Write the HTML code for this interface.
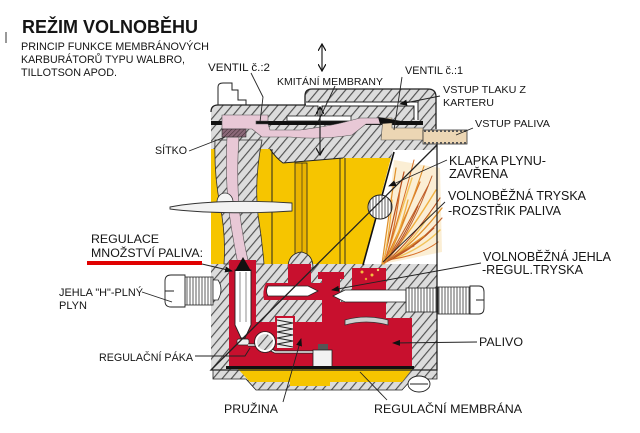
<!DOCTYPE html>
<html><head><meta charset="utf-8"><style>
html,body{margin:0;padding:0;background:#fff;}
svg{display:block;}
text{font-family:"Liberation Sans",Arial,sans-serif;fill:#151515;}
</style></head><body>
<svg width="640" height="433" viewBox="0 0 640 433" xmlns="http://www.w3.org/2000/svg">
<defs>
<pattern id="h" width="7" height="7" patternUnits="userSpaceOnUse" patternTransform="rotate(40)">
<rect width="7" height="7" fill="#dcdcdc"/>
<line x1="0.6" y1="0" x2="0.6" y2="7" stroke="#4a4a4a" stroke-width="1.1"/>
</pattern>
<pattern id="hs" width="3" height="3" patternUnits="userSpaceOnUse" patternTransform="rotate(45)">
<rect width="3" height="3" fill="#8a6878"/>
<line x1="0" y1="0" x2="0" y2="3" stroke="#3a2a30" stroke-width="1"/>
</pattern>
<pattern id="th" width="3" height="10" patternUnits="userSpaceOnUse">
<rect width="3" height="10" fill="#fff"/>
<line x1="1" y1="0" x2="1" y2="10" stroke="#333" stroke-width="0.8"/>
</pattern>
<marker id="a" markerWidth="8" markerHeight="6" refX="7" refY="3" orient="auto" markerUnits="userSpaceOnUse">
<path d="M0,0 L8,3 L0,6 Z" fill="#111"/>
</marker>
<marker id="v" markerWidth="8" markerHeight="8" refX="7" refY="4" orient="auto-start-reverse" markerUnits="userSpaceOnUse">
<path d="M0,0 L7,4 L0,8" fill="none" stroke="#111" stroke-width="1.2"/>
</marker>
</defs>

<!-- small mark -->
<line x1="6" y1="32" x2="6" y2="43" stroke="#333" stroke-width="1"/>

<!-- top left little screw -->
<path d="M218,105 L218,87 Q218,83 223,83 L232,83 L232,90 L238,90 L238,100 L246,100 L246,105 Z" fill="#fff" stroke="#222" stroke-width="1"/>

<!-- main body -->
<path d="M211,112 Q211,105 218,105 L305,105 L305,96 Q305,89 312,89 L428,89 Q436,89 436,97 L436,129 L437,129 L437,370 L211,370 Z" fill="url(#h)"/>

<!-- yellow bore -->
<path d="M211,149 L270,149 Q276,158 283,163 L343,158 L393,158 L363,264 L211,264 Z" fill="#f6c500"/>
<!-- white right of throttle -->
<path d="M393,150 L437,150 L437,264 L363,264 Z" fill="#fff"/>
<!-- spray -->
<path d="M383,264 L394,160 L440,168 L442,252 Z" fill="#f8e2b8" opacity="0.6"/>
<g fill="none" stroke-linecap="round">
<path d="M382,264 Q388,220 396,168" stroke="#e0902a" stroke-width="1.2"/>
<path d="M383,264 Q392,225 404,172" stroke="#b8501e" stroke-width="1.2"/>
<path d="M384,264 Q396,228 412,178" stroke="#f2c45a" stroke-width="1.4"/>
<path d="M384,263 Q400,230 420,182" stroke="#d87028" stroke-width="1.2"/>
<path d="M385,263 Q404,232 428,186" stroke="#c0602a" stroke-width="1.1"/>
<path d="M385,262 Q408,236 436,190" stroke="#f0b040" stroke-width="1.4"/>
<path d="M386,262 Q412,240 440,198" stroke="#b8501e" stroke-width="1.1"/>
<path d="M386,262 Q414,244 442,208" stroke="#e0902a" stroke-width="1.3"/>
<path d="M386,261 Q416,248 442,218" stroke="#c0602a" stroke-width="1.1"/>
<path d="M386,261 Q418,252 440,230" stroke="#f2c45a" stroke-width="1.4"/>
<path d="M386,260 Q420,256 438,242" stroke="#d87028" stroke-width="1.1"/>
<path d="M385,262 Q398,240 408,200" stroke="#f0b040" stroke-width="1.3"/>
<path d="M385,262 Q402,242 418,206" stroke="#b8501e" stroke-width="1"/>
<path d="M384,263 Q394,236 400,190" stroke="#d87028" stroke-width="1.2"/>
<path d="M386,262 Q410,246 430,214" stroke="#f2c45a" stroke-width="1.3"/>
<path d="M386,262 Q412,250 434,228" stroke="#b8501e" stroke-width="1"/>
<path d="M385,262 Q405,250 424,236" stroke="#e0902a" stroke-width="1.2"/>
<path d="M384,263 Q400,252 414,246" stroke="#c0602a" stroke-width="1"/>
<path d="M383,264 Q389,240 392,200" stroke="#f0b040" stroke-width="1.2"/>
<path d="M385,262 Q408,240 432,176" stroke="#c0602a" stroke-width="1"/>
<path d="M386,262 Q404,226 424,166" stroke="#e0902a" stroke-width="1.1"/>
<path d="M384,263 Q398,222 414,160" stroke="#d87028" stroke-width="1"/>
</g>

<!-- left channel wall -->
<path d="M215,140 L262,140 Q254,180 258,215 Q262,240 264,264 L224,264 Q226,235 220,205 Q214,175 215,140 Z" fill="url(#h)" stroke="#333" stroke-width="0.8"/>
<path d="M227,137 L239,137 Q236,180 240,215 Q244,245 249,264 L238,264 Q233,240 229,212 Q225,175 227,137 Z" fill="#e8c8d6" stroke="#555" stroke-width="0.6"/>
<line x1="272" y1="149" x2="272" y2="264" stroke="#222" stroke-width="1"/>

<!-- choke plate -->
<ellipse cx="225" cy="202" rx="8" ry="9" fill="#f4f4f4" stroke="#333" stroke-width="0.8"/>
<path d="M170,207 C200,201 250,200 292,203 L292,211 C250,214 200,213 170,209 Z" fill="#f2f2f2" stroke="#333" stroke-width="0.9"/>

<!-- venturi lines and nozzle tube -->
<rect x="295" y="163" width="12" height="92" fill="#eab400" stroke="#222" stroke-width="0.8"/>
<line x1="302" y1="163" x2="302" y2="255" stroke="#222" stroke-width="0.6"/>
<line x1="340" y1="158" x2="340" y2="264" stroke="#222" stroke-width="0.9"/>
<line x1="345" y1="158" x2="345" y2="264" stroke="#222" stroke-width="0.9"/>
<path d="M270,149 Q276,158 283,163 L343,158" fill="none" stroke="#222" stroke-width="1"/>
<path d="M288,268 Q288,254 301,252 Q313,254 313,268 Z" fill="url(#h)" stroke="#222" stroke-width="0.8"/>

<!-- throttle -->
<line x1="394" y1="152" x2="363" y2="265" stroke="#111" stroke-width="1.6"/>
<circle cx="380" cy="207" r="12" fill="url(#th)" stroke="#222" stroke-width="1"/>

<!-- top section details -->
<rect x="211" y="121" width="212" height="4" fill="#111"/>
<path d="M306,104 L416,104 L416,120 M320,104 L320,118" fill="none" stroke="#222" stroke-width="5"/>
<path d="M306,104 L416,104 L416,120 M320,104 L320,118" fill="none" stroke="#fff" stroke-width="3"/>
<rect x="287" y="116" width="64" height="5" fill="#fff" stroke="#222" stroke-width="0.8"/>
<path d="M222,115 L268,115 L268,121 L256,121 L256,124 L268,124 L270,130 L300,130 Q330,126 345,122 L360,118 L383,118 L383,124 L366,124 L352,135 Q320,140 290,137 L262,137 L252,129 L222,129 Z" fill="#e8c8d6" stroke="#555" stroke-width="0.6"/>
<rect x="222" y="129" width="24" height="8" fill="url(#hs)" stroke="#333" stroke-width="0.6"/>
<path d="M383,118 L392,118 L392,128 L423,128 L423,140 L381,140 Z" fill="#ecd6b4" stroke="#555" stroke-width="0.6"/>
<path d="M378,117 L407,122 L380,124 Z" fill="#111"/>
<rect x="423" y="130" width="44" height="14" fill="#ecd6b4" stroke="#333" stroke-width="0.8"/>
<path d="M424,131 L466,131 M424,143 L466,143" stroke="#555" stroke-width="2" stroke-dasharray="2,2"/>

<!-- bottom red chambers -->
<path d="M229,260 L256,260 L256,322 L275,322 L275,316 L295,316 L295,322 L322,322 L322,279 L318,279 L318,272 L344,272 L344,279 L340,279 L340,302 L352,302 L352,268 L386,268 L386,318 L412,318 L412,367 L229,367 Z" fill="#c8102e"/>
<path d="M288,264 L311,264 L311,283 L322,283 L322,300 L264,300 Q262,291 266,283 L288,283 Z" fill="#c8102e"/>
<circle cx="362" cy="272" r="1.5" fill="#f5c040"/><circle cx="372" cy="275" r="1.5" fill="#f5c040"/><circle cx="378" cy="270" r="1.2" fill="#f8d070"/><circle cx="366" cy="279" r="1.2" fill="#f0a030"/>
<path d="M345,320 Q366,314 388,320 L388,325 Q366,319 345,325 Z" fill="#cfcfcf" stroke="#333" stroke-width="0.8"/>
<!-- needle in needle chamber -->
<path d="M235,270 L251,270 L251,325 L245,338 L241,338 L235,325 Z" fill="#fff" stroke="#222" stroke-width="0.9"/>
<line x1="240" y1="272" x2="240" y2="322" stroke="#444" stroke-width="0.6"/>
<line x1="246" y1="272" x2="246" y2="322" stroke="#444" stroke-width="0.6"/>
<path d="M235,271 L243,257 L251,271 Z" fill="#111"/>
<rect x="237" y="339" width="12" height="6" rx="2" fill="#eee" stroke="#222" stroke-width="0.7"/>
<!-- main needle -->
<path d="M268,286 L308,286 L318,291 L308,296 L268,296 Q265,291 268,286 Z" fill="#fff" stroke="#222" stroke-width="0.8"/>
<!-- idle needle and screw -->
<path d="M333,296 L345,290 L406,290 L406,302 L345,302 Z" fill="#fff" stroke="#222" stroke-width="0.8"/>
<rect x="406" y="288" width="32" height="24" fill="url(#th)" stroke="#222" stroke-width="0.8"/>
<rect x="438" y="287" width="32" height="27" fill="url(#th)" stroke="#222" stroke-width="0.8"/>
<path d="M470,286 L479,286 Q484,286 484,292 L484,308 Q484,314 479,314 L470,314 Z" fill="#fff" stroke="#222" stroke-width="0.9"/>
<path d="M484,300 L476,300" stroke="#222" stroke-width="1"/>
<!-- left screw -->
<rect x="185" y="277" width="28" height="28" fill="url(#th)" stroke="#222" stroke-width="0.8"/>
<path d="M213,280 L218,280 Q224,289 218,300 L213,300 Z" fill="#fff" stroke="#222" stroke-width="0.8"/>
<path d="M185,275 L171,275 Q165,275 165,281 L165,301 Q165,307 171,307 L185,307 Z" fill="#fff" stroke="#222" stroke-width="0.9"/>
<path d="M165,291 L174,291" stroke="#222" stroke-width="1"/>
<!-- spring -->
<rect x="277" y="318" width="16" height="30" fill="#e8e8e8"/>
<path d="M277,320 L293,323 L277,326 L293,329 L277,332 L293,335 L277,338 L293,341 L277,344 L293,347" fill="none" stroke="#222" stroke-width="1"/>
<!-- lever -->
<path d="M248,345 L262,345 L275,352 L318,352" fill="none" stroke="#222" stroke-width="3"/>
<path d="M248,345 L262,345 L275,352 L318,352" fill="none" stroke="#eee" stroke-width="1.4"/>
<circle cx="265" cy="342" r="9" fill="url(#h)" stroke="#fff" stroke-width="2"/>
<circle cx="265" cy="342" r="10.5" fill="none" stroke="#222" stroke-width="0.8"/>
<rect x="318" y="344" width="10" height="7" fill="#555"/>
<rect x="313" y="350" width="19" height="17" fill="#f2f2f2" stroke="#222" stroke-width="0.8"/>

<!-- membrane and bottom cover -->
<path d="M213,370 L437,370 L437,379 L412,379 L402,390 L256,390 L246,379 L213,379 Z" fill="url(#h)" stroke="#222" stroke-width="0.8"/>
<path d="M238,369 L412,369 L402,382 L250,382 Z" fill="#f6c500"/>
<line x1="290" y1="383" x2="330" y2="383" stroke="#f6c500" stroke-width="6"/>
<rect x="226" y="366" width="188" height="3" fill="#111"/>
<ellipse cx="419" cy="384" rx="11" ry="8" fill="#fff" stroke="#222" stroke-width="0.9"/>
<line x1="410" y1="384" x2="428" y2="384" stroke="#222" stroke-width="1"/>

<!-- body outline -->
<path d="M211,112 Q211,105 218,105 L305,105 L305,96 Q305,89 312,89 L428,89 Q436,89 436,97 L436,129 M437,145 L437,370 L211,370 Z" fill="none" stroke="#222" stroke-width="1.3"/>

<!-- double arrows -->
<line x1="322" y1="44" x2="322" y2="71" stroke="#222" stroke-width="1.2" marker-end="url(#v)" marker-start="url(#v)"/>
<line x1="320" y1="107" x2="320" y2="155" stroke="#222" stroke-width="1.2" marker-end="url(#v)" marker-start="url(#v)"/>

<!-- leaders -->
<g fill="none" stroke="#222" stroke-width="0.9">
<polyline points="251,73 263,97 260,122"/>
<line x1="335" y1="86" x2="318" y2="122"/>
<line x1="402" y1="77" x2="394" y2="130"/>
<line x1="440" y1="96" x2="400" y2="104" marker-end="url(#a)"/>
<line x1="473" y1="128" x2="456" y2="135"/>
<line x1="189" y1="151" x2="225" y2="137"/>
<line x1="447" y1="160" x2="389" y2="186" marker-end="url(#a)"/>
<line x1="445" y1="202" x2="383" y2="262"/>
<line x1="481" y1="263" x2="332" y2="290" marker-end="url(#a)"/>
<line x1="202" y1="264" x2="232" y2="271" marker-end="url(#a)"/>
<line x1="142" y1="292" x2="172" y2="302"/>
<polyline points="195,356 245,356 250,348"/>
<line x1="283" y1="402" x2="301" y2="339" marker-end="url(#a)"/>
<line x1="387" y1="400" x2="360" y2="372"/>
<line x1="477" y1="342" x2="393" y2="343" marker-end="url(#a)"/>
</g>

<!-- red underline -->
<rect x="87" y="261" width="115" height="4" fill="#e00000"/>

<!-- texts -->
<text x="22" y="33" font-size="18" font-weight="bold" textLength="176" lengthAdjust="spacingAndGlyphs">REŽIM VOLNOBĚHU</text>
<text x="21" y="50" font-size="10.7" textLength="188" lengthAdjust="spacingAndGlyphs">PRINCIP FUNKCE MEMBRÁNOVÝCH</text>
<text x="21" y="63" font-size="10.7" textLength="164" lengthAdjust="spacingAndGlyphs">KARBURÁTORŮ TYPU WALBRO,</text>
<text x="21" y="76" font-size="10.7" textLength="96" lengthAdjust="spacingAndGlyphs">TILLOTSON APOD.</text>
<text x="208" y="71" font-size="10.8" textLength="62" lengthAdjust="spacingAndGlyphs">VENTIL č.:2</text>
<text x="277" y="85" font-size="10.5" textLength="106" lengthAdjust="spacingAndGlyphs">KMITÁNÍ MEMBRANY</text>
<text x="405" y="74" font-size="10.8" textLength="58" lengthAdjust="spacingAndGlyphs">VENTIL č.:1</text>
<text x="443" y="93" font-size="10.5" textLength="83" lengthAdjust="spacingAndGlyphs">VSTUP TLAKU Z</text>
<text x="443" y="106" font-size="10.5" textLength="51" lengthAdjust="spacingAndGlyphs">KARTERU</text>
<text x="475" y="127" font-size="10.5" textLength="75" lengthAdjust="spacingAndGlyphs">VSTUP PALIVA</text>
<text x="155" y="154" font-size="10.6" textLength="32" lengthAdjust="spacingAndGlyphs">SÍTKO</text>
<text x="449" y="165" font-size="12.5" textLength="97" lengthAdjust="spacingAndGlyphs">KLAPKA PLYNU-</text>
<text x="449" y="178" font-size="12.5" textLength="59" lengthAdjust="spacingAndGlyphs">ZAVŘENA</text>
<text x="448" y="200" font-size="12.5" textLength="138" lengthAdjust="spacingAndGlyphs">VOLNOBĚŽNÁ TRYSKA</text>
<text x="448" y="215" font-size="12.5" textLength="113" lengthAdjust="spacingAndGlyphs">-ROZSTŘIK PALIVA</text>
<text x="483" y="261" font-size="12.5" textLength="128" lengthAdjust="spacingAndGlyphs">VOLNOBĚŽNÁ JEHLA</text>
<text x="482" y="274" font-size="12.5" textLength="101" lengthAdjust="spacingAndGlyphs">-REGUL.TRYSKA</text>
<text x="91" y="243" font-size="12.2" textLength="68" lengthAdjust="spacingAndGlyphs">REGULACE</text>
<text x="91" y="257" font-size="12.2" textLength="112" lengthAdjust="spacingAndGlyphs">MNOŽSTVÍ PALIVA:</text>
<text x="59" y="296" font-size="10.8" textLength="84" lengthAdjust="spacingAndGlyphs">JEHLA "H"-PLNÝ</text>
<text x="59" y="309" font-size="10.8" textLength="28" lengthAdjust="spacingAndGlyphs">PLYN</text>
<text x="99" y="361" font-size="10.7" textLength="94" lengthAdjust="spacingAndGlyphs">REGULAČNÍ PÁKA</text>
<text x="224" y="413" font-size="12.3" textLength="54" lengthAdjust="spacingAndGlyphs">PRUŽINA</text>
<text x="374" y="413" font-size="12.2" textLength="148" lengthAdjust="spacingAndGlyphs">REGULAČNÍ MEMBRÁNA</text>
<text x="479" y="346" font-size="12.2" textLength="44" lengthAdjust="spacingAndGlyphs">PALIVO</text>
</svg>
</body></html>
